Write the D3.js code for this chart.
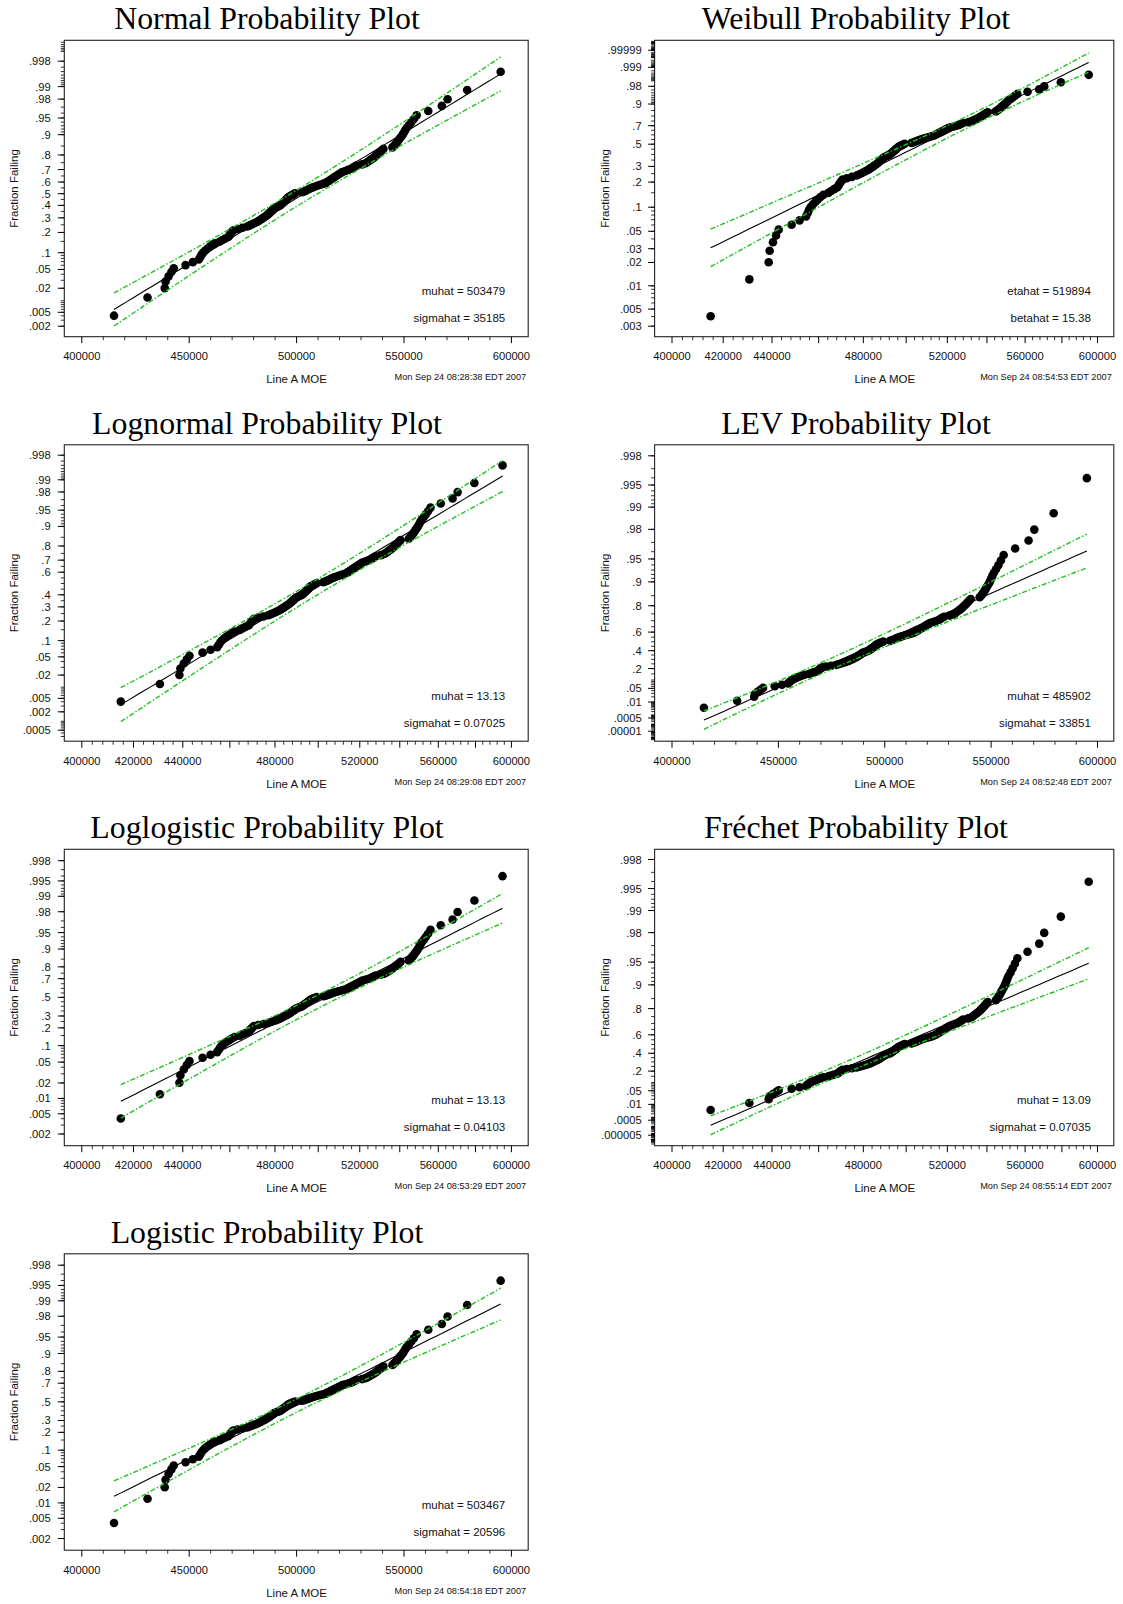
<!DOCTYPE html>
<html>
<head>
<meta charset="utf-8">
<script src="https://cdn.jsdelivr.net/npm/d3@7"></script>
<style>
  body { margin: 0; background: #fff; }
  svg { display: block; }
  text { font-family: "Liberation Sans", Arial, sans-serif; fill: #111; }
  .title { font-family: "Liberation Serif", "Times New Roman", serif; fill: #000; }
</style>
</head>
<body>
<div id="chart"></div>
<script>
// Line A MOE, sorted (124 specimens)
const moeValues = [
  415000, 430600, 438600, 439000, 440400, 441700, 442800, 448300, 451700, 454500,
  455200, 455800, 456500, 457500, 458600, 459700, 460800, 462000, 464300, 465500,
  466800, 468200, 468700, 469100, 469600, 470100, 470600, 472500, 474800, 477000,
  478200, 479400, 480500, 481600, 482500, 483200, 484000, 484700, 485400, 486100,
  486700, 487200, 487700, 488200, 488700, 489200, 489600, 490500, 491400, 492300,
  492800, 493300, 493700, 494200, 494700, 495100, 495500, 495900, 496300, 497000,
  497800, 498600, 499300, 502500, 503600, 504500, 505400, 506300, 507300, 508400,
  509700, 511000, 512300, 513500, 514200, 514900, 515600, 516300, 517000, 517700,
  518400, 519100, 519800, 520600, 521300, 522700, 524000, 525400, 526200, 527000,
  527900, 530500, 532100, 533000, 533800, 534600, 535400, 536200, 536900, 537600,
  538300, 539000, 539700, 540400, 544600, 545400, 546000, 546700, 547300, 547900,
  548600, 549300, 549900, 550500, 551200, 552300, 553400, 554600, 555900, 561300,
  567600, 570300, 579400, 595000
];

const panelTitles = ["Normal Probability Plot", "Weibull Probability Plot", "Lognormal Probability Plot",
  "LEV Probability Plot", "Loglogistic Probability Plot", "Fréchet Probability Plot", "Logistic Probability Plot"];
const families = ["normal", "sev", "normal", "lev", "logistic", "lev", "logistic"];
const logX = [false, true, true, false, true, true, false];

// fitted location / scale on the plotting scale (Weibull: eta, beta)
const fitLocation = [503479, 519894, 13.127, 485902, 13.13, 13.09, 503467];
const fitScale = [35185, 15.38, 0.07025, 33851, 0.04103, 0.07035, 20596];

const paramLines = [
  ["muhat = 503479", "sigmahat = 35185"],
  ["etahat = 519894", "betahat = 15.38"],
  ["muhat = 13.13", "sigmahat = 0.07025"],
  ["muhat = 485902", "sigmahat = 33851"],
  ["muhat = 13.13", "sigmahat = 0.04103"],
  ["muhat = 13.09", "sigmahat = 0.07035"],
  ["muhat = 503467", "sigmahat = 20596"]
];
const stamps = ["Mon Sep 24 08:28:38 EDT 2007", "Mon Sep 24 08:54:53 EDT 2007", "Mon Sep 24 08:29:08 EDT 2007",
  "Mon Sep 24 08:52:48 EDT 2007", "Mon Sep 24 08:53:29 EDT 2007", "Mon Sep 24 08:55:14 EDT 2007",
  "Mon Sep 24 08:54:18 EDT 2007"];

const yTickLabels = [
  [".998", ".99", ".98", ".95", ".9", ".8", ".7", ".6", ".5", ".4", ".3", ".2", ".1", ".05", ".02", ".005", ".002"],
  [".99999", ".999", ".98", ".9", ".7", ".5", ".3", ".2", ".1", ".05", ".03", ".02", ".01", ".005", ".003"],
  [".998", ".99", ".98", ".95", ".9", ".8", ".7", ".6", ".4", ".3", ".2", ".1", ".05", ".02", ".005", ".002", ".0005"],
  [".998", ".995", ".99", ".98", ".95", ".9", ".8", ".6", ".4", ".2", ".05", ".01", ".0005", ".00001"],
  [".998", ".995", ".99", ".98", ".95", ".9", ".8", ".7", ".5", ".3", ".2", ".1", ".05", ".02", ".01", ".005", ".002"],
  [".998", ".995", ".99", ".98", ".95", ".9", ".8", ".6", ".4", ".2", ".05", ".01", ".0005", ".000005"],
  [".998", ".995", ".99", ".98", ".95", ".9", ".8", ".7", ".5", ".3", ".2", ".1", ".05", ".02", ".01", ".005", ".002"]
];
const xLabelsLin = [400000, 450000, 500000, 550000, 600000];
const xLabelsLog = [400000, 420000, 440000, 480000, 520000, 560000, 600000];

// layout
const W = 1123, H = 1604;
const rowStep = 404.5;
const cols = [
  { boxL: 64.3, boxR: 528.2, x400: 81.8, x600: 511.4, titleX: 267, yLab: 50.7, ffX: 14 },
  { boxL: 654.6, boxR: 1113.8, x400: 672, x600: 1097.5, titleX: 856, yLab: 641.7, ffX: 605 }
];
const boxTop = 40.3, boxBot = 336.7;
// pixel (row relative) of first and last y label
const yAnchors = [[61.2, 326.2], [50.2, 326.2], [50.7, 325.7], [51.3, 326.7], [51.7, 325.0], [50.5, 326.2], [51.7, 325.0]];
const slots = [[0, 0], [1, 0], [0, 1], [1, 1], [0, 2], [1, 2], [0, 3]];

function qnorm(p) {
  const a = [-3.969683028665376e+01, 2.209460984245205e+02, -2.759285104469687e+02, 1.383577518672690e+02, -3.066479806614716e+01, 2.506628277459239e+00];
  const b = [-5.447609879822406e+01, 1.615858368580409e+02, -1.556989798598866e+02, 6.680131188771972e+01, -1.328068155288572e+01];
  const c = [-7.784894002430293e-03, -3.223964580411365e-01, -2.400758277161838e+00, -2.549732539343734e+00, 4.374664141464968e+00, 2.938163982698783e+00];
  const d = [7.784695709041462e-03, 3.224671290700398e-01, 2.445134137142996e+00, 3.754408661907416e+00];
  const pl = 0.02425;
  if (p < pl) {
    const q = Math.sqrt(-2 * Math.log(p));
    return (((((c[0]*q+c[1])*q+c[2])*q+c[3])*q+c[4])*q+c[5]) / ((((d[0]*q+d[1])*q+d[2])*q+d[3])*q+1);
  }
  if (p > 1 - pl) {
    const q = Math.sqrt(-2 * Math.log(1 - p));
    return -(((((c[0]*q+c[1])*q+c[2])*q+c[3])*q+c[4])*q+c[5]) / ((((d[0]*q+d[1])*q+d[2])*q+d[3])*q+1);
  }
  const q = p - 0.5, r = q * q;
  return (((((a[0]*r+a[1])*r+a[2])*r+a[3])*r+a[4])*r+a[5])*q / (((((b[0]*r+b[1])*r+b[2])*r+b[3])*r+b[4])*r+1);
}

const quantile = {
  normal: p => qnorm(p),
  logistic: p => Math.log(p / (1 - p)),
  sev: p => Math.log(-Math.log(1 - p)),
  lev: p => -Math.log(-Math.log(p))
};
// inverse fisher information (standardized), for the pointwise bands
const covar = {
  normal: [1, 0, 0.5],
  logistic: [3, 0, 0.6993],
  sev: [1.1087, -0.2570, 0.6079],
  lev: [1.1087, 0.2570, 0.6079]
};

const minorProbs = [];
for (let k = -7; k <= -2; k++) {
  for (let m = 1; m <= 9; m++) { minorProbs.push(m * Math.pow(10, k)); minorProbs.push(1 - m * Math.pow(10, k)); }
}
for (let v = 10; v <= 90; v += 5) minorProbs.push(v / 100);

const n = moeValues.length;
const svg = d3.select("#chart").append("svg").attr("width", W).attr("height", H);

panelTitles.forEach((title, i) => {
  const col = cols[slots[i][0]];
  const oy = slots[i][1] * rowStep;
  const fam = families[i];
  const g = quantile[fam];
  const top = oy + boxTop, bot = oy + boxBot;
  const labs = yTickLabels[i];

  const y = d3.scaleLinear()
    .domain([g(+labs[0]), g(+labs[labs.length - 1])])
    .range([oy + yAnchors[i][0], oy + yAnchors[i][1]]);
  const x = (logX[i] ? d3.scaleLog() : d3.scaleLinear())
    .domain([400000, 600000]).range([col.x400, col.x600]);

  const panel = svg.append("g").attr("class", "panel");

  panel.append("text").attr("class", "title")
    .attr("x", col.titleX).attr("y", oy + 29)
    .attr("text-anchor", "middle").style("font-size", "31.8px")
    .text(title);

  panel.append("rect")
    .attr("x", col.boxL).attr("y", top)
    .attr("width", col.boxR - col.boxL).attr("height", bot - top)
    .attr("fill", "none").attr("stroke", "#222").attr("stroke-width", 1.1);

  // y ticks
  minorProbs.forEach(p => {
    const py = y(g(p));
    if (py < top + 1 || py > bot - 1) return;
    panel.append("line").attr("x1", col.boxL - 3.5).attr("x2", col.boxL)
      .attr("y1", py).attr("y2", py).attr("stroke", "#000").attr("stroke-width", 0.8);
  });
  labs.forEach(s => {
    const py = y(g(+s));
    panel.append("line").attr("x1", col.boxL - 6.5).attr("x2", col.boxL)
      .attr("y1", py).attr("y2", py).attr("stroke", "#000").attr("stroke-width", 1);
    panel.append("text").attr("x", col.yLab).attr("y", py)
      .attr("text-anchor", "end").attr("dominant-baseline", "central")
      .style("font-size", "11.2px").text(s);
  });

  // x ticks
  const step = logX[i] ? 4000 : 10000;
  const majorStep = logX[i] ? 20000 : 50000;
  d3.range(400000, 600001, step).forEach(v => {
    const major = v % majorStep === 0;
    panel.append("line").attr("x1", x(v)).attr("x2", x(v))
      .attr("y1", bot).attr("y2", bot + (major ? 6.5 : 3.5))
      .attr("stroke", "#000").attr("stroke-width", major ? 1 : 0.8);
  });
  (logX[i] ? xLabelsLog : xLabelsLin).forEach(v => {
    panel.append("text").attr("x", x(v)).attr("y", oy + 360)
      .attr("text-anchor", "middle").style("font-size", "11.2px").text(v);
  });

  panel.append("text")
    .attr("transform", `translate(${col.ffX},${(top + bot) / 2}) rotate(-90)`)
    .attr("text-anchor", "middle").attr("dominant-baseline", "central")
    .style("font-size", "11.5px").text("Fraction Failing");
  panel.append("text").attr("x", (col.x400 + col.x600) / 2).attr("y", oy + 383)
    .attr("text-anchor", "middle").style("font-size", "11.5px").text("Line A MOE");
  panel.append("text").attr("x", col.boxR - 2).attr("y", oy + 380)
    .attr("text-anchor", "end").style("font-size", "9.2px").text(stamps[i]);

  paramLines[i].forEach((t, k) => {
    panel.append("text").attr("x", col.boxR - 23).attr("y", oy + 295 + k * 27.3)
      .attr("text-anchor", "end").style("font-size", "11.5px").text(t);
  });

  // data points at plotting positions (i - 0.5) / n
  panel.selectAll("circle.pt").data(moeValues).enter().append("circle")
    .attr("class", "pt")
    .attr("cx", d => x(d))
    .attr("cy", (d, k) => y(g((k + 0.5) / n)))
    .attr("r", 4.3).attr("fill", "#000");

  // fitted line and pointwise 95% bands
  let mu = fitLocation[i], sig = fitScale[i];
  if (fam === "sev") { mu = Math.log(fitLocation[i]); sig = 1 / fitScale[i]; }
  const tx = v => logX[i] ? Math.log(v) : v;
  const [v11, v12, v22] = covar[fam];
  const xmin = d3.min(moeValues), xmax = d3.max(moeValues);
  const grid = d3.range(0, 61).map(j => xmin + (xmax - xmin) * j / 60);
  const fitY = v => (tx(v) - mu) / sig;
  const half = v => { const z = fitY(v); return 1.96 * Math.sqrt((v11 + 2 * z * v12 + z * z * v22) / n); };

  const path = fn => d3.line().x(d => x(d)).y(d => y(fn(d)))(grid);
  panel.append("path").attr("d", path(fitY))
    .attr("fill", "none").attr("stroke", "#000").attr("stroke-width", 1.1);
  [1, -1].forEach(sgn => {
    panel.append("path").attr("d", path(v => fitY(v) + sgn * half(v)))
      .attr("fill", "none").attr("stroke", "#1ec21e").attr("stroke-width", 1.4)
      .attr("stroke-dasharray", "5,2,1.5,2");
  });
});
</script>
</body>
</html>
